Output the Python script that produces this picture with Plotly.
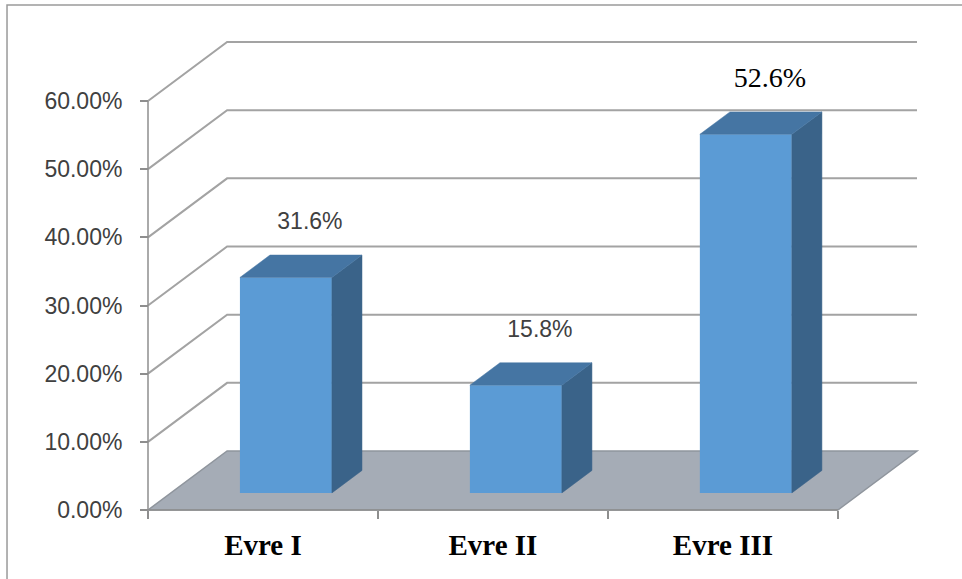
import plotly.graph_objects as go

# ---------------- data ----------------
categories = ["Evre I", "Evre II", "Evre III"]
values = [31.6, 15.8, 52.6]
value_labels = ["31.6%", "15.8%", "52.6%"]
y_ticks = [0, 10, 20, 30, 40, 50, 60]
y_tick_labels = ["0.00%", "10.00%", "20.00%", "30.00%", "40.00%", "50.00%", "60.00%"]

# ---------------- styling / geometry ----------------
W, H = 962, 579
PX_X = 230.0          # px per category unit
PX_Y = 6.817          # px per percent unit
DX = 0.344            # depth offset (category units)
DY = 8.655            # depth offset (percent units)
F0, F1 = 0.29, 0.67   # bar front / back depth fraction
BAR_W = 0.40
PAD_XPX, PAD_YPX = 12, 7
pad_x = PAD_XPX / PX_X
pad_y = PAD_YPX / PX_Y
n = len(categories)
ymax = y_ticks[-1]
x_span = n + DX + 2 * pad_x
y_span = ymax + DY + 2 * pad_y
L, T = 136, 35
plot_w = x_span * PX_X
plot_h = y_span * PX_Y
R = W - L - plot_w
B = H - T - plot_h

FRONT = "#5B9BD5"
TOP = "#4575A3"
SIDE = "#3A6389"
FLOOR = "#A5ACB6"
GRID = "#A3A3A3"
AXIS = "#8E8E8E"

label_styles = [
    dict(family="Liberation Sans", size=23, color="#404040"),
    dict(family="Liberation Sans", size=23, color="#404040"),
    dict(family="Liberation Serif", size=28, color="#000000"),
]

fig = go.Figure()
shapes = []

# floor
fx = [0, n, n + DX, DX]
fy = [0, 0, DY, DY]
path = "M " + " L ".join(f"{a},{b}" for a, b in zip(fx, fy)) + " Z"
shapes.append(dict(type="path", path=path, xref="x", yref="y", layer="below",
                   fillcolor=FLOOR, line=dict(color="#8F959D", width=1.5)))

# back-wall gridlines with left diagonals
for t in y_ticks[1:]:
    p = f"M 0,{t} L {DX},{t + DY} L {n + DX},{t + DY}"
    shapes.append(dict(type="path", path=p, xref="x", yref="y", layer="below",
                       line=dict(color=GRID, width=2)))

# bars: front faces
centers = [i + 0.5 + F0 * DX for i in range(n)]
base = F0 * DY
fig.add_trace(go.Bar(x=centers, y=values, base=[base] * n, width=BAR_W,
                     marker=dict(color=FRONT, line=dict(width=0)),
                     hoverinfo="skip", showlegend=False))

ddx = (F1 - F0) * DX
ddy = (F1 - F0) * DY
for c, v in zip(centers, values):
    x0, x1 = c - BAR_W / 2, c + BAR_W / 2
    top = base + v
    # side face
    fig.add_trace(go.Scatter(
        x=[x1, x1 + ddx, x1 + ddx, x1, x1],
        y=[base, base + ddy, top + ddy, top, base],
        fill="toself", fillcolor=SIDE, mode="lines",
        line=dict(color=SIDE, width=0.5), hoverinfo="skip", showlegend=False))
    # top face
    fig.add_trace(go.Scatter(
        x=[x0, x0 + ddx, x1 + ddx, x1, x0],
        y=[top, top + ddy, top + ddy, top, top],
        fill="toself", fillcolor=TOP, mode="lines",
        line=dict(color=TOP, width=0.5), hoverinfo="skip", showlegend=False))

# front axis lines
fig.add_trace(go.Scatter(x=[0, 0], y=[0, ymax], mode="lines",
                         line=dict(color=AXIS, width=1.5), hoverinfo="skip", showlegend=False))
fig.add_trace(go.Scatter(x=[0, n], y=[0, 0], mode="lines",
                         line=dict(color=AXIS, width=1.5), hoverinfo="skip", showlegend=False))

# data labels (placed ~32 px above the back-top edge of each bar)
label_gap = 32 / PX_Y
xshift = 9 / PX_X
for c, v, lab, st in zip(centers, values, value_labels, label_styles):
    fig.add_trace(go.Scatter(
        x=[c + ddx / 2 + xshift], y=[base + v + ddy + label_gap],
        text=[lab], mode="text", textposition="middle center",
        textfont=st, hoverinfo="skip", showlegend=False, cliponaxis=False))

# outer chart border (cropped at right/bottom)
shapes.append(dict(type="rect", xref="paper", yref="paper",
                   x0=(7 - L) / plot_w, x1=1.3,
                   y0=-0.5, y1=(H - B - 5) / plot_h,
                   line=dict(color="#9A9A9A", width=1.5), layer="above"))

fig.update_layout(
    width=W, height=H,
    margin=dict(l=L, r=R, t=T, b=B, pad=0),
    paper_bgcolor="white", plot_bgcolor="rgba(0,0,0,0)",
    showlegend=False,
    shapes=shapes,
    xaxis=dict(range=[-pad_x, n + DX + pad_x], anchor="free", position=pad_y / y_span,
               showgrid=False, zeroline=False, showline=False,
               tickmode="array", tickvals=[i + 0.5 for i in range(n)], ticktext=categories,
               ticks="", ticklabelstandoff=15,
               tickfont=dict(family="Liberation Serif", size=29, color="#000000", weight="bold"),
               minor=dict(tickmode="array", tickvals=list(range(n + 1)), ticks="outside",
                          ticklen=8, tickwidth=1.5, tickcolor=AXIS, showgrid=False),
               fixedrange=True),
    yaxis=dict(range=[-pad_y, ymax + DY + pad_y], anchor="free", position=pad_x / x_span,
               showgrid=False, zeroline=False, showline=False,
               tickmode="array", tickvals=y_ticks, ticktext=y_tick_labels,
               ticks="outside", ticklen=8, tickwidth=1.5, tickcolor=AXIS,
               ticklabelstandoff=13,
               tickfont=dict(family="Liberation Sans", size=23, color="#404040"),
               fixedrange=True),
)

fig.write_html("out.html")
